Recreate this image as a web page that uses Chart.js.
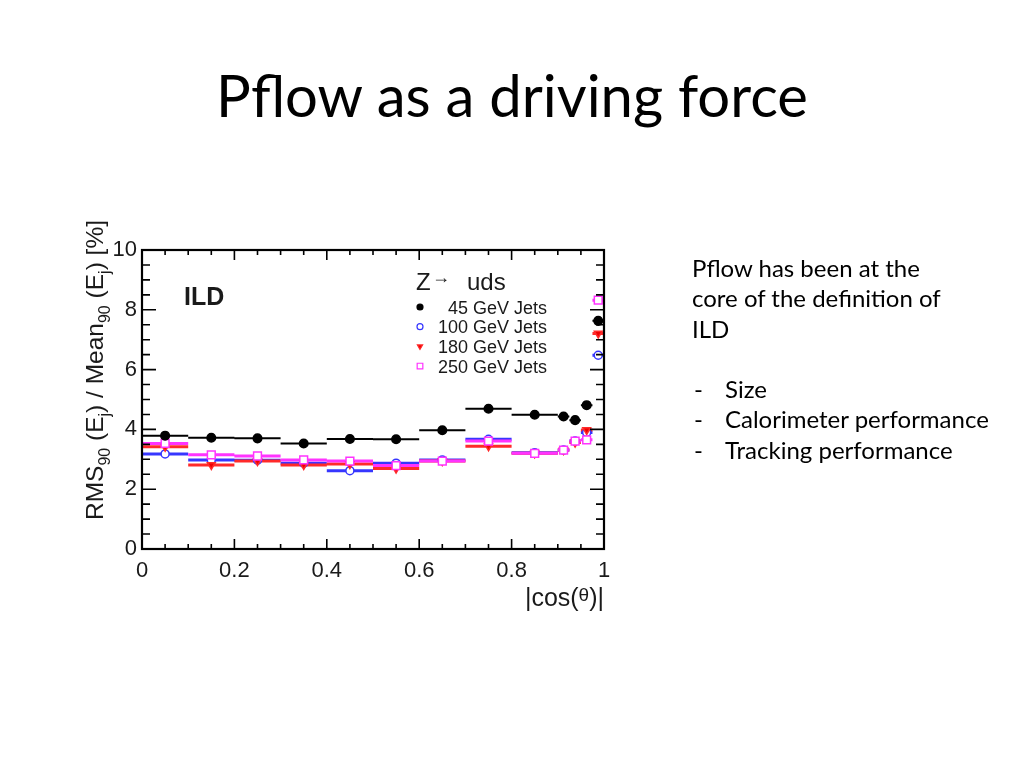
<!DOCTYPE html>
<html>
<head>
<meta charset="utf-8">
<script src="https://cdn.jsdelivr.net/npm/chart.js@4.4.1/dist/chart.umd.min.js"></script>
<style>
  body { margin: 0; background: #fff; width: 1024px; height: 768px; overflow: hidden; position: relative; font-family: Lato, sans-serif; color: #000; }
  #plot { position: absolute; left: 0; top: 0; }
  #title { position: absolute; left: 0; top: 60px; width: 1024px; text-align: center; font-size: 58px; line-height: 70px; white-space: nowrap; }
  #notes { position: absolute; left: 692px; top: 253px; font-size: 24px; line-height: 30.3px; white-space: nowrap; }
  #notes .item { position: relative; padding-left: 33px; }
  #notes .item span { position: absolute; left: 2px; }
</style>
</head>
<body>
<canvas id="plot" width="1024" height="768"></canvas>
<div id="title">Pflow as a driving force</div>
<div id="notes">
  <div>Pflow has been at the</div>
  <div>core of the definition of</div>
  <div>ILD</div>
  <div>&nbsp;</div>
  <div class="item"><span>-</span>Size</div>
  <div class="item"><span>-</span>Calorimeter performance</div>
  <div class="item"><span>-</span>Tracking performance</div>
</div>
<script>
// |cos(theta)| bin edges
const binEdges = [0, 0.1, 0.2, 0.3, 0.4, 0.5, 0.6, 0.7, 0.8, 0.9, 0.925, 0.95, 0.975, 1.0];

// RMS90/Mean90 [%] per bin
const jets45 = [3.79, 3.72, 3.70, 3.53, 3.68, 3.67, 3.97, 4.69, 4.49, 4.43, 4.31, 4.81, 7.63];
const jets100 = [3.18, 2.98, 2.97, 2.87, 2.62, 2.87, 2.98, 3.67, 3.22, 3.31, 3.61, 3.90, 6.48];
const jets180 = [3.42, 2.81, 2.94, 2.81, 2.84, 2.69, 2.94, 3.44, 3.20, 3.31, 3.56, 3.98, 7.21];
const jets250 = [3.53, 3.15, 3.11, 2.98, 2.94, 2.79, 2.94, 3.61, 3.20, 3.31, 3.61, 3.65, 8.32];

const seriesLabels = ["45 GeV Jets", "100 GeV Jets", "180 GeV Jets", "250 GeV Jets"];
const xTickValues = [0, 0.2, 0.4, 0.6, 0.8, 1];
const xTickLabels = ["0", "0.2", "0.4", "0.6", "0.8", "1"];
const yTickValues = [0, 2, 4, 6, 8, 10];
const yTickLabels = ["0", "2", "4", "6", "8", "10"];

const AXIS_FONT = "'Liberation Sans', Arial, sans-serif";

const styles = [
  { color: "#000000", fill: "#000000", shape: "circle", radius: 4.3, width: 2 },
  { color: "#3636ff", fill: "#ffffff", shape: "circle", radius: 4, width: 3 },
  { color: "#ff2a2a", fill: "#ee0000", shape: "triangle", radius: 4.5, width: 3, rotation: 180 },
  { color: "#ff33ff", fill: "#ffffff", shape: "rect", radius: 5.5, width: 3 },
];
const allSeries = [jets45, jets100, jets180, jets250];

const barData = (values) => {
  const pts = [];
  values.forEach((v, i) => {
    pts.push({ x: binEdges[i], y: v });
    pts.push({ x: binEdges[i + 1], y: v });
    pts.push({ x: binEdges[i + 1], y: null });
  });
  return pts;
};

const pointData = (values) =>
  values.map((v, i) => ({ x: (binEdges[i] + binEdges[i + 1]) / 2, y: v }));

const datasets = [];
allSeries.forEach((values, k) => {
  const s = styles[k];
  datasets.push({
    label: seriesLabels[k],
    data: pointData(values),
    showLine: false,
    pointStyle: s.shape,
    pointRotation: s.rotation || 0,
    pointRadius: s.radius,
    pointBackgroundColor: s.fill,
    pointBorderColor: s.color,
    pointBorderWidth: 1.5,
    order: k === 0 ? 0 : 4 - k,
  });
  datasets.push({
    label: seriesLabels[k] + " bins",
    data: barData(values),
    showLine: true,
    spanGaps: false,
    pointRadius: 0,
    borderColor: s.color,
    borderWidth: s.width,
    order: k === 0 ? 10 : 14 - k,
  });
});

// frame, inner ticks, axis titles, legend and ILD label
const decorations = {
  id: "decorations",
  afterDraw(chart) {
    const ctx = chart.ctx;
    const a = chart.chartArea;
    const xs = chart.scales.x;
    const ys = chart.scales.y;
    ctx.save();
    ctx.strokeStyle = "#000";
    ctx.lineWidth = 1.6;
    for (let i = 0; i <= 20; i++) {
      const px = xs.getPixelForValue(i * 0.05);
      const len = i % 4 === 0 ? 10 : 5;
      ctx.beginPath();
      ctx.moveTo(px, a.bottom); ctx.lineTo(px, a.bottom - len);
      ctx.moveTo(px, a.top); ctx.lineTo(px, a.top + len);
      ctx.stroke();
    }
    for (let i = 0; i <= 20; i++) {
      const py = ys.getPixelForValue(i * 0.5);
      const len = i % 4 === 0 ? 14 : 8;
      ctx.beginPath();
      ctx.moveTo(a.left, py); ctx.lineTo(a.left + len, py);
      ctx.moveTo(a.right, py); ctx.lineTo(a.right - len, py);
      ctx.stroke();
    }
    ctx.lineWidth = 2.2;
    ctx.strokeRect(a.left, a.top, a.right - a.left, a.bottom - a.top);

    ctx.fillStyle = "#1a1a1a";
    ctx.textBaseline = "alphabetic";

    // y title with subscripts
    const yParts = [
      ["RMS", 0], ["90", 1], [" (E", 0], ["j", 1], [") / Mean", 0], ["90", 1],
      [" (E", 0], ["j", 1], [") [%]", 0],
    ];
    ctx.save();
    ctx.translate(103, 520);
    ctx.rotate(-Math.PI / 2);
    let x = 0;
    yParts.forEach(([t, sub]) => {
      ctx.font = (sub ? "16px " : "24.5px ") + AXIS_FONT;
      ctx.fillText(t, x, sub ? 7 : 0);
      x += ctx.measureText(t).width;
    });
    ctx.restore();

    // x title
    ctx.font = "25px " + AXIS_FONT;
    const endW = ctx.measureText(")|").width;
    ctx.font = "19px " + AXIS_FONT;
    const thW = ctx.measureText("θ").width;
    ctx.font = "25px " + AXIS_FONT;
    const startW = ctx.measureText("|cos(").width;
    const tx = a.right - endW - thW - startW;
    ctx.fillText("|cos(", tx, 606);
    ctx.font = "19px " + AXIS_FONT;
    ctx.fillText("θ", tx + startW, 601);
    ctx.font = "25px " + AXIS_FONT;
    ctx.fillText(")|", tx + startW + thW, 606);

    // ILD
    ctx.font = "bold 25px " + AXIS_FONT;
    ctx.fillText("ILD", 184, 305);

    // legend header
    ctx.font = "24px " + AXIS_FONT;
    ctx.fillText("Z", 416, 290);
    ctx.font = "18px " + AXIS_FONT;
    ctx.fillText("→", 432, 283);
    ctx.font = "24px " + AXIS_FONT;
    ctx.fillText("uds", 467, 290);

    // legend entries
    ctx.font = "18px " + AXIS_FONT;
    ctx.textAlign = "right";
    seriesLabels.forEach((label, k) => {
      const cy = 307 + k * 19.7;
      const s = styles[k];
      ctx.fillStyle = "#1a1a1a";
      ctx.fillText(label, 547, cy + 6.5);
      ctx.fillStyle = s.fill;
      ctx.strokeStyle = s.color;
      ctx.lineWidth = 1.2;
      Chart.helpers.drawPoint(ctx, {
        pointStyle: s.shape,
        rotation: s.rotation || 0,
        radius: s.shape === "rect" ? 4 : 3,
        borderWidth: 1.2,
      }, 420, cy);
    });
    ctx.restore();
  },
};

new Chart(document.getElementById("plot"), {
  type: "scatter",
  data: { datasets },
  options: {
    responsive: false,
    animation: false,
    devicePixelRatio: 1,
    layout: { padding: { left: 102, right: 420, top: 250, bottom: 179 } },
    plugins: { legend: { display: false }, tooltip: { enabled: false } },
    scales: {
      x: {
        type: "linear",
        min: 0,
        max: 1,
        afterBuildTicks: (scale) => { scale.ticks = xTickValues.map((v) => ({ value: v })); },
        afterFit: (scale) => { scale.height = 40; },
        grid: { display: false, drawTicks: false },
        border: { display: false },
        ticks: {
          padding: 9,
          color: "#1a1a1a",
          font: { family: AXIS_FONT, size: 22 },
          maxRotation: 0,
          callback: (v) => xTickLabels[xTickValues.indexOf(v)],
        },
      },
      y: {
        type: "linear",
        min: 0,
        max: 10,
        afterBuildTicks: (scale) => { scale.ticks = yTickValues.map((v) => ({ value: v })); },
        afterFit: (scale) => { scale.width = 40; },
        grid: { display: false, drawTicks: false },
        border: { display: false },
        ticks: {
          padding: 5,
          color: "#1a1a1a",
          font: { family: AXIS_FONT, size: 22 },
          callback: (v) => yTickLabels[yTickValues.indexOf(v)],
        },
      },
    },
  },
  plugins: [decorations],
});
</script>
</body>
</html>
